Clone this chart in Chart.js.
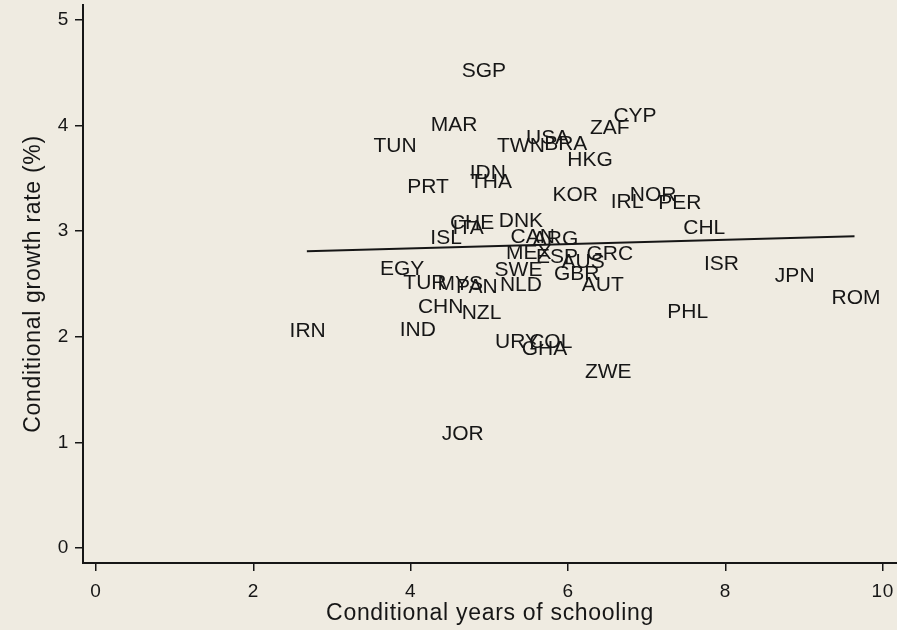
<!DOCTYPE html>
<html>
<head>
<meta charset="utf-8">
<script src="https://cdn.jsdelivr.net/npm/chart.js@4.4.1/dist/chart.umd.min.js"></script>
<style>
  body { margin: 0; background: #efebe1; }
  #wrap { width: 897px; height: 630px; }
</style>
</head>
<body>
<div id="wrap"><canvas id="growthChart"></canvas></div>
<script>
// Country codes and values
const countries = [
  "SGP", "MAR", "TUN", "USA", "TWN", "BRA", "ZAF", "CYP", "HKG", "IDN",
  "THA", "PRT", "KOR", "IRL", "NOR", "PER", "CHL", "CHE", "ITA", "DNK",
  "ISL", "CAN", "ARG", "MEX", "ESP", "AUS", "GRC", "SWE", "NLD", "GBR",
  "AUT", "ISR", "JPN", "ROM", "PHL", "EGY", "TUR", "MYS", "PAN", "CHN",
  "NZL", "IND", "IRN", "URY", "COL", "GHA", "ZWE", "JOR",
];
const schooling = [
  4.93, 4.55, 3.8, 5.74, 5.4, 5.97, 6.53, 6.85, 6.28, 4.98,
  5.02, 4.22, 6.09, 6.75, 7.08, 7.42, 7.73, 4.78, 4.73, 5.4,
  4.45, 5.55, 5.84, 5.5, 5.86, 6.19, 6.53, 5.37, 5.4, 6.11,
  6.44, 7.95, 8.88, 9.66, 7.52, 3.89, 4.18, 4.63, 4.84, 4.38,
  4.9, 4.09, 2.69, 5.35, 5.78, 5.7, 6.51, 4.66,
];
const growth = [
  4.51, 4.0, 3.8, 3.88, 3.8, 3.82, 3.97, 4.09, 3.67, 3.55,
  3.46, 3.42, 3.34, 3.27, 3.34, 3.26, 3.03, 3.07, 3.03, 3.09,
  2.93, 2.94, 2.92, 2.79, 2.75, 2.71, 2.78, 2.63, 2.49, 2.59,
  2.49, 2.69, 2.57, 2.36, 2.23, 2.64, 2.51, 2.5, 2.47, 2.28,
  2.22, 2.06, 2.05, 1.95, 1.95, 1.88, 1.66, 1.08,
];

// Fitted line end points
const fitX = [2.68, 9.64];
const fitY = [2.81, 2.95];

// Tick labels
const xTicks = [0, 2, 4, 6, 8, 10];
const yTicks = [0, 1, 2, 3, 4, 5];

const ink = "#161616";

const countryPoints = countries.map((c, i) => ({ x: schooling[i], y: growth[i] }));
const fitPoints = fitX.map((x, i) => ({ x: x, y: fitY[i] }));

// Draw the country codes at their points
const countryLabels = {
  id: "countryLabels",
  beforeDraw(chart) {
    chart.ctx.letterSpacing = "0.7px";
  },
  afterDatasetsDraw(chart) {
    const ctx = chart.ctx;
    const xs = chart.scales.x;
    const ys = chart.scales.y;
    ctx.save();
    ctx.letterSpacing = "0px";
    ctx.font = "21px 'Liberation Sans', Arial, sans-serif";
    ctx.fillStyle = ink;
    ctx.textAlign = "center";
    ctx.textBaseline = "middle";
    countries.forEach((c, i) => {
      ctx.fillText(c, xs.getPixelForValue(schooling[i]), ys.getPixelForValue(growth[i]));
    });
    ctx.restore();
  },
};

const axisStyle = {
  grid: { drawOnChartArea: false, drawTicks: true, tickLength: 8, color: ink, lineWidth: 1.5 },
  border: { display: true, color: ink, width: 2 },
};

const ctx = document.getElementById("growthChart").getContext("2d");
const growthChart = new Chart(ctx, {
  type: "scatter",
  data: {
    datasets: [
      {
        label: "countries",
        data: countryPoints,
        pointRadius: 0,
        pointHoverRadius: 0,
      },
      {
        label: "fit",
        data: fitPoints,
        showLine: true,
        borderColor: ink,
        borderWidth: 2,
        pointRadius: 0,
        fill: false,
      },
    ],
  },
  options: {
    responsive: true,
    maintainAspectRatio: false,
    animation: false,
    layout: { padding: { top: 5, right: 0, left: 0, bottom: 0 } },
    plugins: {
      legend: { display: false },
      tooltip: { enabled: false },
    },
    scales: {
      x: {
        type: "linear",
        min: -0.165,
        max: 10.18,
        ...axisStyle,
        afterBuildTicks: (s) => { s.ticks = xTicks.map((v) => ({ value: v })); },
        afterFit: (s) => {
          s.height = 67;
          s.paddingLeft = 0;
          s.paddingRight = 0;
        },
        ticks: {
          color: ink,
          padding: 9,
          font: { family: "'Liberation Sans', Arial, sans-serif", size: 19 },
        },
        title: {
          display: true,
          text: "Conditional years of schooling",
          color: ink,
          padding: { top: 0, bottom: 3 },
          font: { family: "'Liberation Sans', Arial, sans-serif", size: 23 },
        },
      },
      y: {
        type: "linear",
        min: -0.142,
        max: 5.14,
        ...axisStyle,
        afterBuildTicks: (s) => { s.ticks = yTicks.map((v) => ({ value: v })); },
        afterFit: (s) => {
          s.width = 83;
          s.paddingTop = 0;
          s.paddingBottom = 0;
        },
        ticks: {
          color: ink,
          padding: 6,
          font: { family: "'Liberation Sans', Arial, sans-serif", size: 19 },
        },
        title: {
          display: true,
          text: "Conditional growth rate (%)",
          color: ink,
          padding: { top: 20, bottom: 0 },
          font: { family: "'Liberation Sans', Arial, sans-serif", size: 23 },
        },
      },
    },
  },
  plugins: [countryLabels],
});
</script>
</body>
</html>
